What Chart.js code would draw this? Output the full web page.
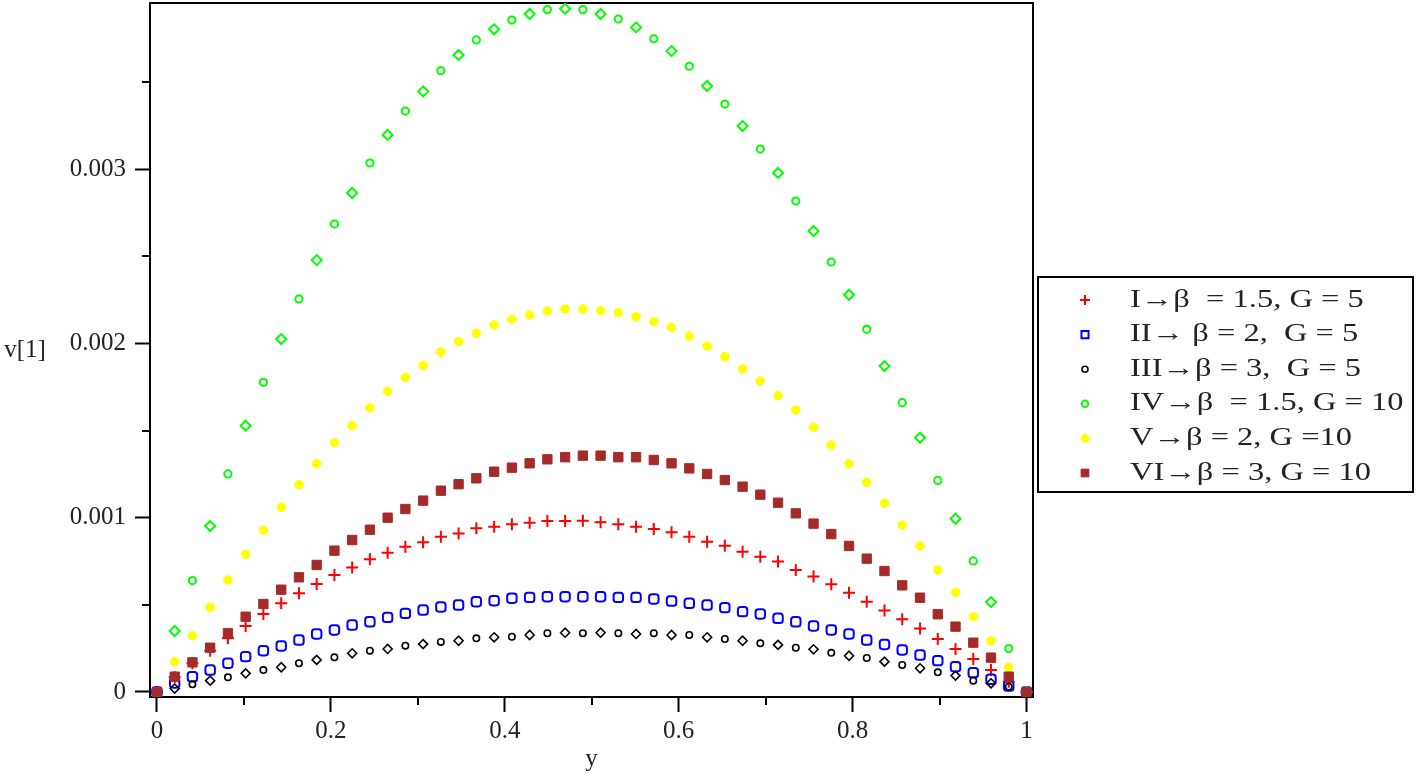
<!DOCTYPE html>
<html>
<head>
<meta charset="utf-8">
<title>v[1] against y</title>
<script src="https://cdn.jsdelivr.net/npm/chart.js@4.4.1/dist/chart.umd.min.js"></script>
<style>
html, body { margin: 0; padding: 0; background: #fff; }
canvas { display: block; }
</style>
</head>
<body>
<canvas id="chart" width="1418" height="774"></canvas>
<script>
// y positions of the points (50 points from 0 to 1)
var yValues = [0, 0.0204, 0.0408, 0.0612, 0.0816, 0.1020, 0.1224, 0.1429, 0.1633, 0.1837,
    0.2041, 0.2245, 0.2449, 0.2653, 0.2857, 0.3061, 0.3265, 0.3469, 0.3673, 0.3878,
    0.4082, 0.4286, 0.4490, 0.4694, 0.4898, 0.5102, 0.5306, 0.5510, 0.5714, 0.5918,
    0.6122, 0.6327, 0.6531, 0.6735, 0.6939, 0.7143, 0.7347, 0.7551, 0.7755, 0.7959,
    0.8163, 0.8367, 0.8571, 0.8776, 0.8980, 0.9184, 0.9388, 0.9592, 0.9796, 1];

// I -> beta = 1.5, G = 5
var vI = [0, 0.000085, 0.000165, 0.000237, 0.000308, 0.000379, 0.000448, 0.000509, 0.000566, 0.000620,
    0.000671, 0.000715, 0.000761, 0.000799, 0.000834, 0.000859, 0.000891, 0.000910, 0.000939, 0.000948,
    0.000962, 0.000971, 0.000981, 0.000981, 0.000983, 0.000974, 0.000962, 0.000948, 0.000935, 0.000916,
    0.000891, 0.000862, 0.000839, 0.000805, 0.000776, 0.000748, 0.000700, 0.000662, 0.000618, 0.000570,
    0.000518, 0.000467, 0.000417, 0.000365, 0.000304, 0.000247, 0.000189, 0.000126, 0.000059, 0];

// II -> beta = 2, G = 5
var vII = [0, 0.000052, 0.000088, 0.000126, 0.000165, 0.000203, 0.000237, 0.000264, 0.000298, 0.000333,
    0.000356, 0.000384, 0.000403, 0.000428, 0.000451, 0.000470, 0.000488, 0.000499, 0.000518, 0.000524,
    0.000538, 0.000543, 0.000547, 0.000547, 0.000547, 0.000547, 0.000543, 0.000543, 0.000534, 0.000522,
    0.000509, 0.000499, 0.000484, 0.000461, 0.000448, 0.000423, 0.000403, 0.000379, 0.000356, 0.000333,
    0.000298, 0.000273, 0.000241, 0.000212, 0.000180, 0.000145, 0.000111, 0.000073, 0.000034, 0];

// III -> beta = 3, G = 5
var vIII = [0, 0.000020, 0.000044, 0.000065, 0.000084, 0.000107, 0.000126, 0.000142, 0.000165, 0.000184,
    0.000199, 0.000222, 0.000237, 0.000247, 0.000266, 0.000275, 0.000287, 0.000294, 0.000308, 0.000314,
    0.000317, 0.000327, 0.000337, 0.000340, 0.000337, 0.000340, 0.000337, 0.000333, 0.000337, 0.000327,
    0.000327, 0.000314, 0.000304, 0.000294, 0.000279, 0.000270, 0.000254, 0.000245, 0.000225, 0.000208,
    0.000195, 0.000174, 0.000155, 0.000136, 0.000113, 0.000094, 0.000065, 0.000050, 0.000030, 0];

// IV -> beta = 1.5, G = 10
var vIV = [0, 0.000350, 0.000639, 0.000952, 0.001251, 0.001528, 0.001777, 0.002025, 0.002255, 0.002478,
    0.002685, 0.002863, 0.003035, 0.003196, 0.003333, 0.003446, 0.003565, 0.003655, 0.003741, 0.003802,
    0.003855, 0.003890, 0.003915, 0.003920, 0.003915, 0.003890, 0.003861, 0.003813, 0.003748, 0.003677,
    0.003590, 0.003477, 0.003373, 0.003247, 0.003115, 0.002978, 0.002817, 0.002645, 0.002467, 0.002279,
    0.002081, 0.001870, 0.001660, 0.001459, 0.001214, 0.000994, 0.000752, 0.000516, 0.000249, 0];

// V -> beta = 2, G = 10
var vV = [0, 0.000174, 0.000323, 0.000486, 0.000643, 0.000790, 0.000929, 0.001060, 0.001189, 0.001310,
    0.001430, 0.001528, 0.001629, 0.001725, 0.001805, 0.001874, 0.001951, 0.002010, 0.002058, 0.002106,
    0.002138, 0.002163, 0.002186, 0.002197, 0.002197, 0.002188, 0.002176, 0.002153, 0.002125, 0.002092,
    0.002042, 0.001985, 0.001924, 0.001853, 0.001784, 0.001700, 0.001618, 0.001519, 0.001417, 0.001310,
    0.001203, 0.001083, 0.000958, 0.000838, 0.000700, 0.000572, 0.000432, 0.000294, 0.000142, 0];

// VI -> beta = 3, G = 10
var vVI = [0, 0.000088, 0.000170, 0.000254, 0.000337, 0.000432, 0.000505, 0.000587, 0.000658, 0.000729,
    0.000811, 0.000872, 0.000931, 0.001000, 0.001050, 0.001098, 0.001155, 0.001192, 0.001226, 0.001264,
    0.001287, 0.001312, 0.001335, 0.001347, 0.001356, 0.001356, 0.001347, 0.001347, 0.001331, 0.001312,
    0.001283, 0.001251, 0.001216, 0.001178, 0.001132, 0.001086, 0.001025, 0.000966, 0.000906, 0.000838,
    0.000765, 0.000694, 0.000612, 0.000541, 0.000446, 0.000375, 0.000283, 0.000197, 0.000088, 0];

var seriesLabels = [
    "I\u2192\u03b2  = 1.5, G = 5",
    "II\u2192 \u03b2 = 2,  G = 5",
    "III\u2192\u03b2 = 3,  G = 5",
    "IV\u2192\u03b2  = 1.5, G = 10",
    "V\u2192\u03b2 = 2, G =10",
    "VI\u2192\u03b2 = 3, G = 10"
];

// tick labels
var xTicks = [0, 0.2, 0.4, 0.6, 0.8, 1];
var xMinorTicks = [0.1, 0.3, 0.5, 0.7, 0.9];
var yTicks = [0, 0.001, 0.002, 0.003];
var yMinorTicks = [0.0005, 0.0015, 0.0025, 0.0035];

var serif = "'Liberation Serif', 'Times New Roman', serif";

function toPoints(vals) {
    let pts = [];
    for(let i=0; i<vals.length; i++) {
        pts.push({x: yValues[i], y: vals[i]});
    }
    return pts;
}

// circles and diamonds alternate in the hollow series
function mixedStyle(ctx) {
    return ctx.dataIndex % 2 ? 'rectRot' : 'circle';
}

var styles = [
    { color: 'rgb(255, 0, 0)', fill: false, pointStyle: 'cross', radius: 6, width: 2, legendStyle: 'cross', legendRadius: 5 },
    { color: 'rgb(0, 0, 255)', fill: false, pointStyle: 'rectRounded', radius: 5.5, width: 2, legendStyle: 'rect', legendRadius: 5 },
    { color: 'rgb(0, 0, 0)', fill: false, pointStyle: mixedStyle, radius: function(c) { return c.dataIndex % 2 ? 4.5 : 3.2; }, width: 1.6, legendStyle: 'circle', legendRadius: 3 },
    { color: 'rgb(0, 255, 0)', fill: false, pointStyle: mixedStyle, radius: function(c) { return c.dataIndex % 2 ? 5 : 3.6; }, width: 2, legendStyle: 'circle', legendRadius: 3.2 },
    { color: 'rgb(255, 255, 0)', fill: true, pointStyle: 'circle', radius: 4.3, width: 1, legendStyle: 'circle', legendRadius: 4 },
    { color: 'rgb(165, 42, 42)', fill: true, pointStyle: 'rect', radius: 6.6, width: 1, legendStyle: 'rect', legendRadius: 5.5 }
];

var allSeries = [vI, vII, vIII, vIV, vV, vVI];

let datasets = [];
for(let i=0; i<allSeries.length; i++) {
    let st = styles[i];
    datasets.push({
        label: seriesLabels[i],
        data: toPoints(allSeries[i]),
        showLine: false,
        pointStyle: st.pointStyle,
        pointRadius: st.radius,
        pointHoverRadius: st.radius,
        pointBorderWidth: st.width,
        pointBorderColor: st.color,
        pointBackgroundColor: st.fill ? st.color : 'rgba(0,0,0,0)',
        borderColor: st.color,
        backgroundColor: st.fill ? st.color : 'rgba(0,0,0,0)',
        order: allSeries.length - i
    });
}

// frame, minor ticks, vertical axis title and the boxed legend
var decorPlugin = {
    id: 'decor',
    beforeDatasetsDraw(chart) {
        let ctx = chart.ctx;
        let a = chart.chartArea;
        ctx.save();
        ctx.strokeStyle = '#000';
        ctx.lineWidth = 2;
        ctx.strokeRect(a.left, a.top, a.right - a.left, a.bottom - a.top);
        ctx.beginPath();
        for(let i=0; i<xMinorTicks.length; i++) {
            let px = Math.round(chart.scales.x.getPixelForValue(xMinorTicks[i]));
            ctx.moveTo(px, a.bottom);
            ctx.lineTo(px, a.bottom + 8);
        }
        for(let i=0; i<yMinorTicks.length; i++) {
            let py = Math.round(chart.scales.y.getPixelForValue(yMinorTicks[i]));
            ctx.moveTo(a.left, py);
            ctx.lineTo(a.left - 8, py);
        }
        ctx.stroke();

        ctx.fillStyle = '#222';
        ctx.font = "25px " + serif;
        ctx.textAlign = 'center';
        ctx.textBaseline = 'middle';
        ctx.fillText('v[1]', 25, (a.top + a.bottom) / 2);
        ctx.restore();
    },
    afterDraw(chart) {
        let ctx = chart.ctx;
        ctx.save();
        // legend box
        ctx.strokeStyle = '#000';
        ctx.lineWidth = 2;
        ctx.strokeRect(1038, 277, 375, 215);

        for(let i=0; i<seriesLabels.length; i++) {
            let st = styles[i];
            let y = 300 + i * 34.6;
            ctx.strokeStyle = st.color;
            ctx.fillStyle = st.fill ? st.color : 'rgba(0,0,0,0)';
            ctx.lineWidth = st.width;
            Chart.helpers.drawPoint(ctx, {
                pointStyle: st.legendStyle,
                radius: st.legendRadius,
                rotation: 0,
                borderWidth: st.width
            }, 1085, y);

            ctx.fillStyle = '#222';
            ctx.font = "25px " + serif;
            ctx.textAlign = 'left';
            ctx.textBaseline = 'middle';
            ctx.save();
            ctx.translate(1130, y);
            ctx.scale(1.3, 1);
            ctx.fillText(seriesLabels[i], 0, 0);
            ctx.restore();
        }
        ctx.restore();
    }
};

var ctx = document.getElementById('chart').getContext('2d');
var chart = new Chart(ctx, {
    type: 'scatter',
    data: { datasets: datasets },
    options: {
        responsive: false,
        animation: false,
        devicePixelRatio: 1,
        layout: { autoPadding: false, padding: { left: 0, top: 3, right: 385, bottom: 0 } },
        plugins: {
            legend: { display: false },
            tooltip: { enabled: false }
        },
        scales: {
            x: {
                type: 'linear',
                min: -0.008,
                max: 1.0075,
                afterFit: function(scale) {
                    scale.height = 77;
                    scale.paddingLeft = 0;
                    scale.paddingRight = 0;
                },
                afterBuildTicks: function(scale) {
                    scale.ticks = xTicks.map(function(v) { return {value: v}; });
                },
                border: { display: false },
                grid: { display: true, drawOnChartArea: false, drawTicks: true, tickLength: 15, tickWidth: 2, tickColor: '#000' },
                ticks: {
                    color: '#222',
                    font: { family: serif, size: 25 },
                    padding: 4,
                    maxRotation: 0,
                    autoSkip: false,
                    callback: function(v) { return String(Math.round(v * 10) / 10); }
                },
                title: {
                    display: true,
                    text: 'y',
                    color: '#222',
                    font: { family: serif, size: 25 },
                    padding: { top: 0, bottom: 0 }
                }
            },
            y: {
                type: 'linear',
                min: -0.0000287,
                max: 0.003953,
                afterFit: function(scale) {
                    scale.width = 150;
                    scale.paddingTop = 0;
                    scale.paddingBottom = 0;
                },
                afterBuildTicks: function(scale) {
                    scale.ticks = yTicks.map(function(v) { return {value: v}; });
                },
                border: { display: false },
                grid: { display: true, drawOnChartArea: false, drawTicks: true, tickLength: 15, tickWidth: 2, tickColor: '#000' },
                ticks: {
                    color: '#222',
                    font: { family: serif, size: 25 },
                    padding: 9,
                    autoSkip: false,
                    callback: function(v) { return v === 0 ? '0' : v.toFixed(3); }
                }
            }
        }
    },
    plugins: [decorPlugin]
});
</script>
</body>
</html>
